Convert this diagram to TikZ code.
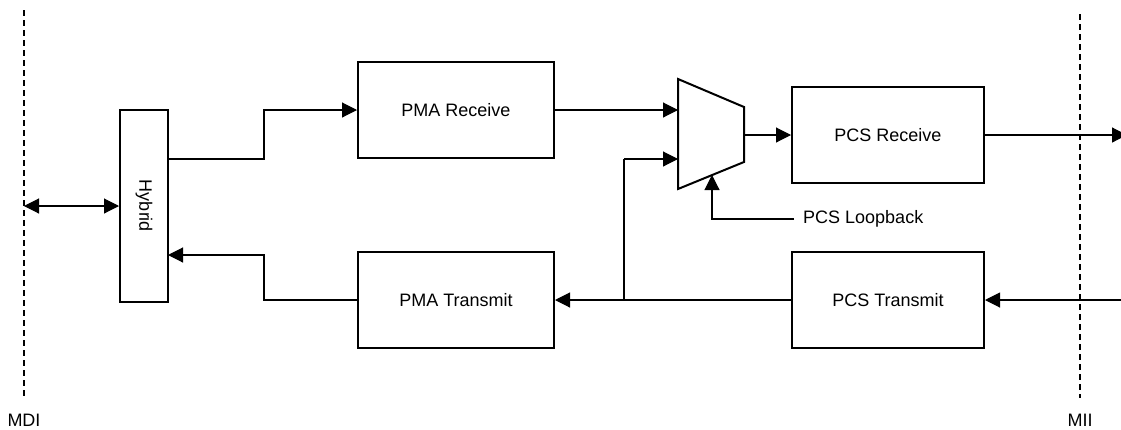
\documentclass[tikz,border=0pt]{standalone}
\usepackage{fontspec}
\setmainfont{Liberation Sans}
\usetikzlibrary{arrows.meta,calc}
\begin{document}
\begin{tikzpicture}[x=1pt,y=-1pt,
  lbl/.style={font=\fontsize{18}{21}\selectfont,inner sep=0pt},
  blk/.style={draw,line width=2pt,minimum width=196pt,minimum height=96pt,inner sep=0pt,font=\fontsize{18}{21}\selectfont},
  conn/.style={line width=1.1pt,-{Triangle[length=15pt,width=15pt]}},
  dconn/.style={line width=1.1pt,{Triangle[length=15pt,width=15pt]}-{Triangle[length=15pt,width=15pt]}},
  plain/.style={line width=1.1pt},
  bound/.style={line width=1.3pt,dash pattern=on 6pt off 4pt}]
\useasboundingbox (0,0) rectangle (1121,429);
% boundaries
\coordinate (mdit) at (24,10);
\coordinate (mdib) at (24,398);
\coordinate (miit) at (1080,14);
\coordinate (miib) at (1080,398);
\draw[bound] (mdit) -- (mdib);
\draw[bound] (miit) -- (miib);
\node[lbl,anchor=base] (mdi) at (24,426) {MDI};
\node[lbl,anchor=base] (mii) at (1080,426) {MII};
% blocks
\node[draw,line width=2pt,minimum width=48pt,minimum height=192pt,inner sep=0pt] (hyb) at (144,206) {};
\node[lbl,rotate=-90] (hybt) at (hyb.center) {Hybrid};
\node[blk] (pmar) at (456,110) {PMA Receive};
\node[blk] (pmat) at (456,300) {PMA Transmit};
\node[blk,minimum width=192pt] (pcsr) at (888,135) {PCS Receive};
\node[blk,minimum width=192pt] (pcst) at (888,300) {PCS Transmit};
% mux
\draw[line width=2pt,line join=miter] (678,79) -- (744,107) -- (744,162) -- (678,189) -- cycle;
\coordinate (in1) at (678,110);
\coordinate (in2) at (678,159);
\coordinate (mout) at (744,135);
\coordinate (sel) at (712,175);
% connectors
\coordinate (mdim) at (24,206);
\draw[dconn] (mdim) -- (hyb.west);
\coordinate (h1) at (168,159);
\coordinate (h2) at (168,255);
\draw[conn] (h1) -- (264,159) -- (264,110) -- (pmar.west);
\draw[conn] (pmar.east) -- (in1);
\coordinate (jn) at (624,300);
\draw[plain] (jn) -- (624,159) coordinate (jt);
\draw[conn] (jt) -- (in2);
\draw[conn] (mout) -- (pcsr.west);
\coordinate (rout) at (1127,135);
\coordinate (rin) at (1121,300);
\draw[conn] (pcsr.east) -- (rout);
\draw[conn] (rin) -- (pcst.east);
\draw[conn] (pcst.west) -- (pmat.east);
\draw[conn] (pmat.west) -- (264,300) -- (264,255) -- (h2);
\coordinate (lbend) at (794,219);
\draw[conn] (lbend) -- (712,219) -- (sel);
\node[lbl,anchor=west] (lb) at (803,219) {PCS Loopback};
\end{tikzpicture}
\end{document}
